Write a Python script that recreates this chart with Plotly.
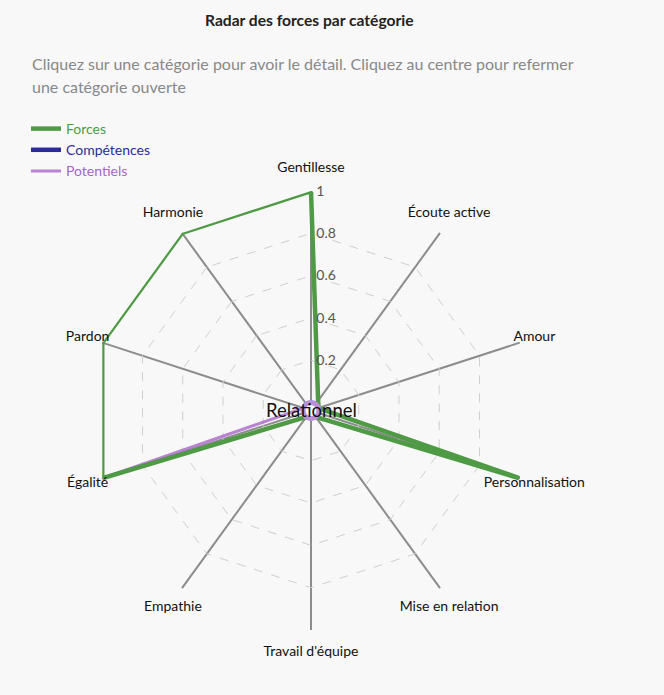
import math
import plotly.graph_objects as go

categories = ["Gentillesse", "Écoute active", "Amour", "Personnalisation", "Mise en relation",
              "Travail d'équipe", "Empathie", "Égalité", "Pardon", "Harmonie"]
forces = [1, 0.02, 0, 1, 0, 0, 0, 1, 1, 1]
competences = [0, 0, 0, 0, 0, 0, 0, 0, 0, 0]
potentiels = [0, 0, 0, 1, 0, 0, 0, 1, 0, 0]
center_label = "Relationnel"
radial_ticks = [0.2, 0.4, 0.6, 0.8, 1]
radial_ticktext = ["0.2", "0.4", "0.6", "0.8", "1"]

GREEN = "#4f9a45"
BLUE = "#2b2b9c"
PURPLE = "#a865c9"
RING = "#b98fd8"
FONT = "Lato"

W, H = 664, 695
CX, CY, R = 311, 410.5, 219.5
HOLE = 0.036
LABEL_SCALE = 1.07
RING_R = 8

def closed(v):
    return list(v) + [v[0]]

def dom(radius):
    return dict(x=[(CX - radius) / W, (CX + radius) / W],
                y=[(H - CY - radius) / H, (H - CY + radius) / H])

# label placement like a radar chart: beside the point near the horizontal, above/below otherwise
n = len(categories)
label_pos = []
for i in range(n):
    s = math.sin(math.radians(90 - 360 * i / n))
    if abs(s) < 0.5:
        label_pos.append("middle center")
    elif s > 0:
        label_pos.append("top center")
    else:
        label_pos.append("bottom center")

fig = go.Figure()
fig.add_trace(go.Scatterpolar(r=closed(potentiels), theta=closed(categories), mode="lines",
                              name="<span style='color:%s'>Potentiels</span>" % PURPLE,
                              line=dict(color="rgba(168,101,201,0.8)", width=3), legendrank=3,
                              cliponaxis=False))
fig.add_trace(go.Scatterpolar(r=closed(competences), theta=closed(categories), mode="lines",
                              name="<span style='color:%s'>Compétences</span>" % BLUE,
                              line=dict(color=BLUE, width=4.5), legendrank=2, cliponaxis=False))
fig.add_trace(go.Scatterpolar(r=closed(forces), theta=closed(categories), mode="lines",
                              name="<span style='color:%s'>Forces</span>" % GREEN,
                              line=dict(color=GREEN, width=4.5), legendrank=1, cliponaxis=False))
# category labels on an outer, invisible polar frame
fig.add_trace(go.Scatterpolar(r=[1] * n, theta=categories, mode="text", subplot="polar2",
                              text=categories, textposition=label_pos, showlegend=False,
                              cliponaxis=False, hoverinfo="skip",
                              textfont=dict(size=14, color="#111", family=FONT)))

# centre ring
fig.add_shape(type="circle", xref="paper", yref="paper",
              x0=(CX - RING_R) / W, x1=(CX + RING_R) / W,
              y0=(H - CY - RING_R) / H, y1=(H - CY + RING_R) / H,
              line=dict(color=RING, width=5), fillcolor="#f8f8f8", layer="above")

fig.add_annotation(text=center_label, x=CX / W, y=1 - CY / H, xref="paper", yref="paper",
                   xanchor="center", yanchor="middle",
                   showarrow=False, font=dict(size=18.5, color="#111", family=FONT))
fig.add_annotation(text="<b>Radar des forces par catégorie</b>", x=309 / W, y=1 - 20 / H,
                   xref="paper", yref="paper", xanchor="center", yanchor="middle", showarrow=False,
                   font=dict(size=15.6, color="#222", family=FONT))
fig.add_annotation(text="Cliquez sur une catégorie pour avoir le détail. Cliquez au centre pour refermer",
                   x=30 / W, y=1 - 63 / H, xref="paper", yref="paper", xanchor="left", yanchor="middle",
                   align="left", showarrow=False, font=dict(size=16.0, color="#888", family=FONT))
fig.add_annotation(text="une catégorie ouverte",
                   x=30 / W, y=1 - 87 / H, xref="paper", yref="paper", xanchor="left", yanchor="middle",
                   align="left", showarrow=False, font=dict(size=16.0, color="#888", family=FONT))

fig.update_layout(
    width=W, height=H,
    margin=dict(l=0, r=0, t=0, b=0),
    paper_bgcolor="#f8f8f8",
    font=dict(family=FONT, size=13, color="#111"),
    showlegend=True,
    legend=dict(x=26 / W, y=1 - 113 / H, xanchor="left", yanchor="top", bgcolor="rgba(0,0,0,0)",
                font=dict(size=14, family=FONT), tracegroupgap=0, itemwidth=30),
    polar=dict(
        domain=dom(R),
        hole=HOLE,
        bgcolor="#f8f8f8",
        gridshape="linear",
        angularaxis=dict(rotation=90, direction="clockwise", showline=False,
                         gridcolor="#8c8c8c", gridwidth=2, ticks="", showticklabels=False),
        radialaxis=dict(range=[0, 1], tickvals=radial_ticks, ticktext=radial_ticktext,
                        angle=90, tickangle=90, showline=False, gridcolor="#cfcfcf", gridwidth=1,
                        griddash="dash", ticks="outside", ticklen=2, tickcolor="rgba(0,0,0,0)",
                        tickfont=dict(size=14, color="#555", family=FONT)),
    ),
    polar2=dict(
        domain=dom(R * LABEL_SCALE),
        bgcolor="rgba(0,0,0,0)",
        gridshape="linear",
        angularaxis=dict(rotation=90, direction="clockwise", categoryarray=categories,
                         categoryorder="array", showline=False, showgrid=False,
                         ticks="", showticklabels=False),
        radialaxis=dict(range=[0, 1], visible=False, showgrid=False),
    ),
)

fig.write_html("out.html", config={"displayModeBar": False},
               post_script="document.body.style.margin='0';document.body.style.overflow='hidden';")
